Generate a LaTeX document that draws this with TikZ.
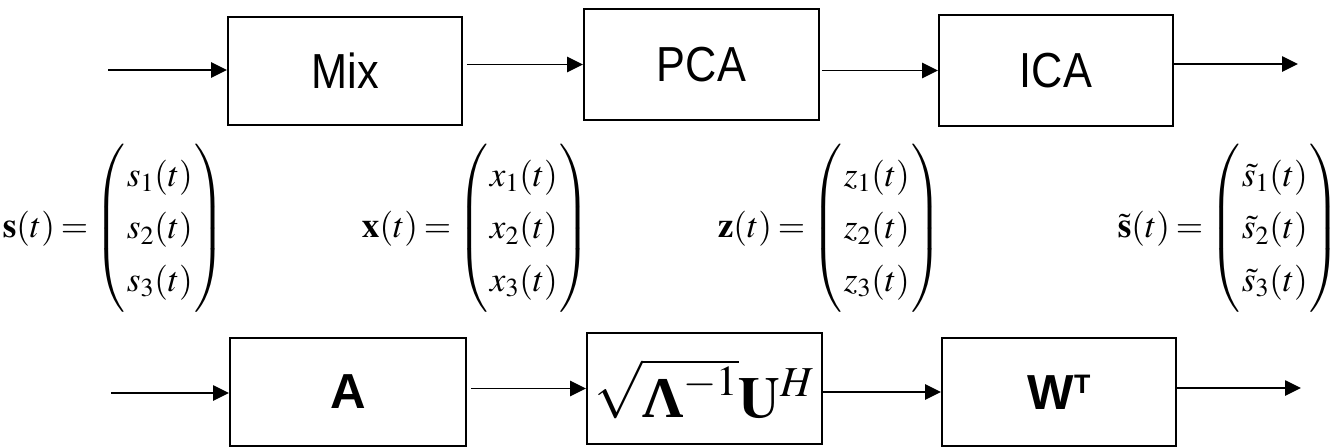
\documentclass[tikz,border=0pt]{standalone}
\usepackage{mathptmx}
\usepackage[no-math]{fontspec}
\setmainfont{Liberation Serif}
\newfontfamily\arial{Liberation Sans}
\usetikzlibrary{arrows.meta}
\renewcommand{\arraystretch}{1.24}
\setlength{\arraycolsep}{1.5pt}
\thickmuskip=3mu plus 2mu\relax
\newcommand{\narrowtxt}[1]{\scalebox{0.88}[1]{#1}}

\begin{document}
\begin{tikzpicture}[
  box/.style={draw, line width=1.4pt, minimum width=5.85cm, minimum height=2.7cm,
    inner sep=0pt, font=\arial\fontsize{35}{42}\selectfont},
  flow/.style={-{Triangle[length=4mm,width=3.8mm]}, line width=1.4pt},
  sig/.style={anchor=east, inner sep=0pt, font=\fontsize{25}{30}\selectfont}
]
  \useasboundingbox (0,0) rectangle (33.475,-11.2);

  % processing chain
  \node[box] (mix) at (8.625,-1.775) {\narrowtxt{Mix}};
  \node[box, minimum width=5.875cm, minimum height=2.775cm] (pca) at (17.5375,-1.6125) {\narrowtxt{PCA}};
  \node[box, minimum height=2.775cm] (ica) at (26.4,-1.7625) {\narrowtxt{ICA}};
  \coordinate (in1) at (2.7,-1.75);
  \coordinate (out1) at (32.45,-1.6);
  \draw[flow] (in1) -- (in1 -| mix.west);
  \draw[flow] ([xshift=1mm]mix.east |- pca.west) -- (pca.west);
  \draw[flow] ([xshift=0.5mm]pca.east |- ica.west) -- (ica.west);
  \draw[flow] (ica.east |- out1) -- (out1);

  % signals
  \node[sig] (s) at (5.65,-5.7125)
    {$\mathbf{s}(t)=\left(\begin{array}{c} s_1(t)\\ s_2(t)\\ s_3(t) \end{array}\right)$};
  \node[sig] (x) at (14.775,-5.7125)
    {$\mathbf{x}(t)=\left(\begin{array}{c} x_1(t)\\ x_2(t)\\ x_3(t) \end{array}\right)$};
  \node[sig] (z) at (23.575,-5.7125)
    {$\mathbf{z}(t)=\left(\begin{array}{c} z_1(t)\\ z_2(t)\\ z_3(t) \end{array}\right)$};
  \node[sig] (st) at (33.525,-5.7125)
    {$\tilde{\mathbf{s}}(t)=\left(\begin{array}{c} \tilde{s}_1(t)\\ \tilde{s}_2(t)\\ \tilde{s}_3(t) \end{array}\right)$};

  % matrices
  \node[box, minimum width=5.9cm] (a) at (8.7,-9.8) {\bfseries A};
  \node[box, minimum width=5.875cm, minimum height=2.775cm, font=\fontsize{41}{48}\selectfont]
    (sq) at (17.6125,-9.7125) {$\sqrt{\mbox{\bfseries Λ}^{-1}}\mathbf{U}^{H}$};
  \node[box] (w) at (26.475,-9.8)
    {\bfseries W\raisebox{11.2pt}{\fontsize{19}{22}\selectfont T}};
  \coordinate (in2) at (2.775,-9.825);
  \coordinate (out2) at (32.525,-9.7);
  \draw[flow] (in2) -- (in2 -| a.west);
  \draw[flow] ([xshift=1mm]a.east |- sq.west) -- (sq.west);
  \draw[flow] (sq.east |- w.west) -- (w.west);
  \draw[flow] (w.east |- out2) -- (out2);
\end{tikzpicture}
\end{document}
